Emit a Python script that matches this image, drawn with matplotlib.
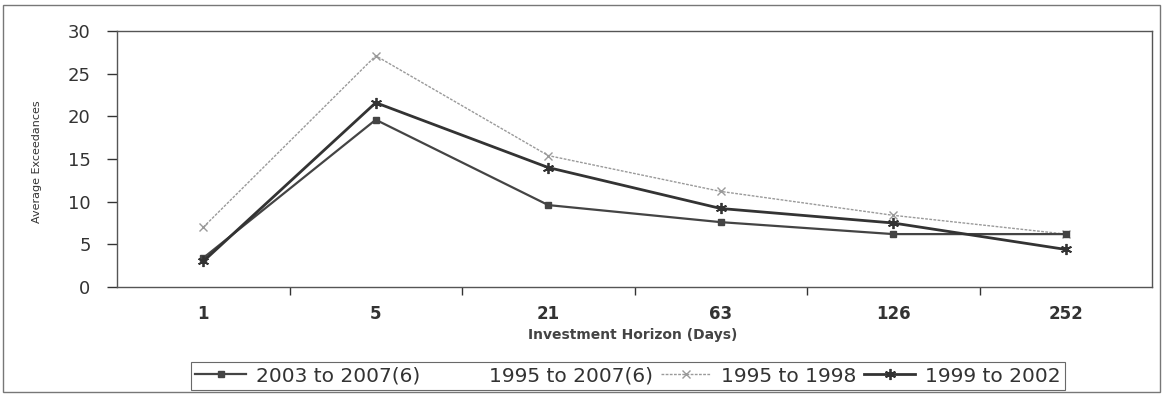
import numpy as np
import matplotlib.pyplot as plt
from matplotlib.patches import Rectangle

plt.rcParams['font.family'] = ['DejaVu Sans']

horizons = ['1', '5', '21', '63', '126', '252']
s_2003_2007 = [3.4, 19.6, 9.6, 7.6, 6.2, 6.2]
s_1995_2007 = [4.5, 22.5, 13.0, 9.3, 7.3, 5.6]
s_1995_1998 = [7.0, 27.1, 15.4, 11.2, 8.4, 6.2]
s_1999_2002 = [3.0, 21.6, 14.0, 9.2, 7.5, 4.4]

fig = plt.figure(figsize=(11.66, 3.94), dpi=100)
ax = fig.add_axes([117 / 1166, 1 - 287 / 394, 1035 / 1166, 256 / 394])
x = np.arange(len(horizons))

# the full-period series is drawn in white in the original (invisible)
ax.plot(x, s_1995_2007, color='white', lw=1, zorder=1, label='1995 to 2007(6)')
ax.plot(x, s_2003_2007, color='#444444', lw=1.6, marker='s', ms=5,
        zorder=3, label='2003 to 2007(6)')
ax.plot(x, s_1995_1998, color='#9a9a9a', lw=1.0, ls=(0, (2, 1)), marker='x',
        ms=6, mew=1.0, zorder=2, label='1995 to 1998')
ax.plot(x, s_1999_2002, color='#333333', lw=2.0, marker=(6, 2, 0), ms=8,
        mew=1.3, zorder=4, label='1999 to 2002')

ax.set_xlim(-0.5, len(horizons) - 0.5)
ax.set_ylim(0, 30)
ax.set_yticks(range(0, 31, 5))
ax.tick_params(axis='y', labelsize=13, colors='#333333', length=7, width=1, pad=12)
ax.set_xticks(x, horizons)
ax.tick_params(axis='x', which='major', length=0, pad=13, labelsize=12,
               labelcolor='#333333')
for lbl in ax.get_xticklabels():
    lbl.set_fontweight('bold')
ax.set_xticks(x[:-1] + 0.5, minor=True)
ax.tick_params(axis='x', which='minor', length=6, width=1, color='#333333', direction='out')
for sp in ax.spines.values():
    sp.set_color('#555555')
    sp.set_linewidth(1.0)

fig.text(633 / 1166, 1 - 335 / 394, 'Investment Horizon (Days)', ha='center',
         va='center', fontsize=10, fontweight='bold', color='#444444')
fig.text(37 / 1166, 1 - 162 / 394, 'Average Exceedances', ha='center', va='center',
         rotation=90, fontsize=8, color='#333333')

handles, labels = ax.get_legend_handles_labels()
order = [1, 0, 2, 3]
leg = fig.legend([handles[i] for i in order], [labels[i] for i in order],
                 loc='center', bbox_to_anchor=(628 / 1166, 1 - 376 / 394), ncol=4,
                 fontsize=14.5, frameon=True, fancybox=False, handlelength=2.5,
                 handletextpad=0.5, columnspacing=0.4, borderpad=0.2,
                 borderaxespad=0)
leg.get_frame().set_edgecolor('#444444')
leg.get_frame().set_linewidth(0.8)
for t in leg.get_texts():
    t.set_color('#333333')

fig.patches.append(Rectangle((3 / 1166, 1 - 392 / 394), 1157 / 1166, 387 / 394,
                             transform=fig.transFigure, fill=False,
                             edgecolor='#777777', lw=1.0))

fig.savefig('out.png', dpi=100)
